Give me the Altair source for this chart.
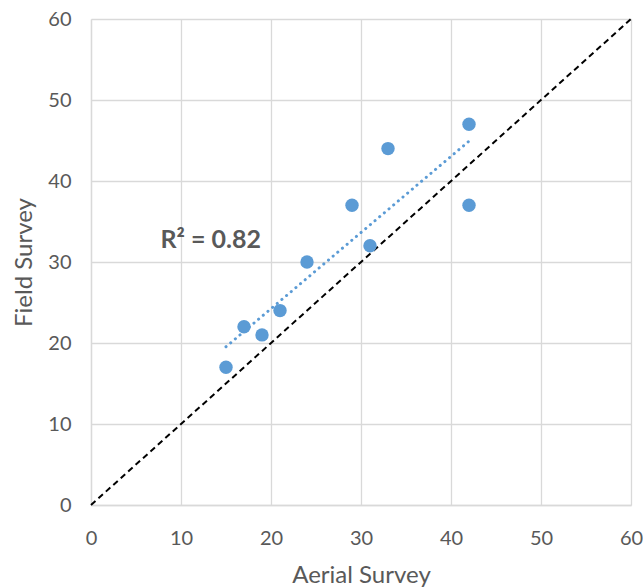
import altair as alt
import pandas as pd

aerial = [15, 17, 19, 21, 24, 29, 31, 33, 42, 42]
field = [17, 22, 21, 24, 30, 37, 32, 44, 47, 37]
diag_x = [0, 60]
diag_y = [0, 60]
r2_label = ["R² = 0.82"]
r2_x = [13.3]
r2_y = [32.7]

pts = pd.DataFrame({"Aerial Survey": aerial, "Field Survey": field})
diag = pd.DataFrame({"Aerial Survey": diag_x, "Field Survey": diag_y})
txt = pd.DataFrame({"Aerial Survey": r2_x, "Field Survey": r2_y, "label": r2_label})

FONT = "Lato"
GRAY = "#595959"

xs = alt.Scale(domain=[0, 60], nice=False, zero=True)
ys = alt.Scale(domain=[0, 60], nice=False, zero=True)
xax = alt.Axis(values=[0, 10, 20, 30, 40, 50, 60], title="Aerial Survey", labelFlush=False)
yax = alt.Axis(values=[0, 10, 20, 30, 40, 50, 60], title="Field Survey", labelFlush=False)

base_x = alt.X("Aerial Survey:Q", scale=xs, axis=xax)
base_y = alt.Y("Field Survey:Q", scale=ys, axis=yax)

diag_layer = alt.Chart(diag).mark_line(color="black", strokeWidth=2, strokeDash=[6, 4]).encode(
    x=base_x, y=base_y
)

trend = alt.Chart(pts).transform_regression(
    "Aerial Survey", "Field Survey"
).mark_line(color="#5b9bd5", strokeWidth=3, strokeDash=[0.1, 6], strokeCap="round").encode(
    x=base_x, y=base_y
)

points = alt.Chart(pts).mark_circle(color="#5b9bd5", size=180, opacity=1).encode(
    x=base_x, y=base_y
)

label = alt.Chart(txt).mark_text(
    font=FONT, fontSize=25, fontWeight="bold", color=GRAY, align="center", baseline="middle"
).encode(x=base_x, y=base_y, text="label:N")

chart = alt.layer(diag_layer, trend, points, label).properties(
    width=540, height=486,
    autosize=alt.AutoSizeParams(type="none"),
    padding={"left": 91, "top": 19, "right": 12, "bottom": 83},
).configure_view(stroke=None).configure_axis(
    grid=True, gridColor="#d9d9d9", gridWidth=1.3,
    domainColor="#d9d9d9", domainWidth=1.3, ticks=False,
    labelFont=FONT, labelFontSize=20, labelColor=GRAY,
    titleFont=FONT, titleFontSize=24, titleColor=GRAY, titleFontWeight="normal",
).configure_axisX(labelPadding=23, titlePadding=15).configure_axisY(labelPadding=20, titlePadding=11)

chart.save("out.html", embed_options={"renderer": "svg", "actions": False})
